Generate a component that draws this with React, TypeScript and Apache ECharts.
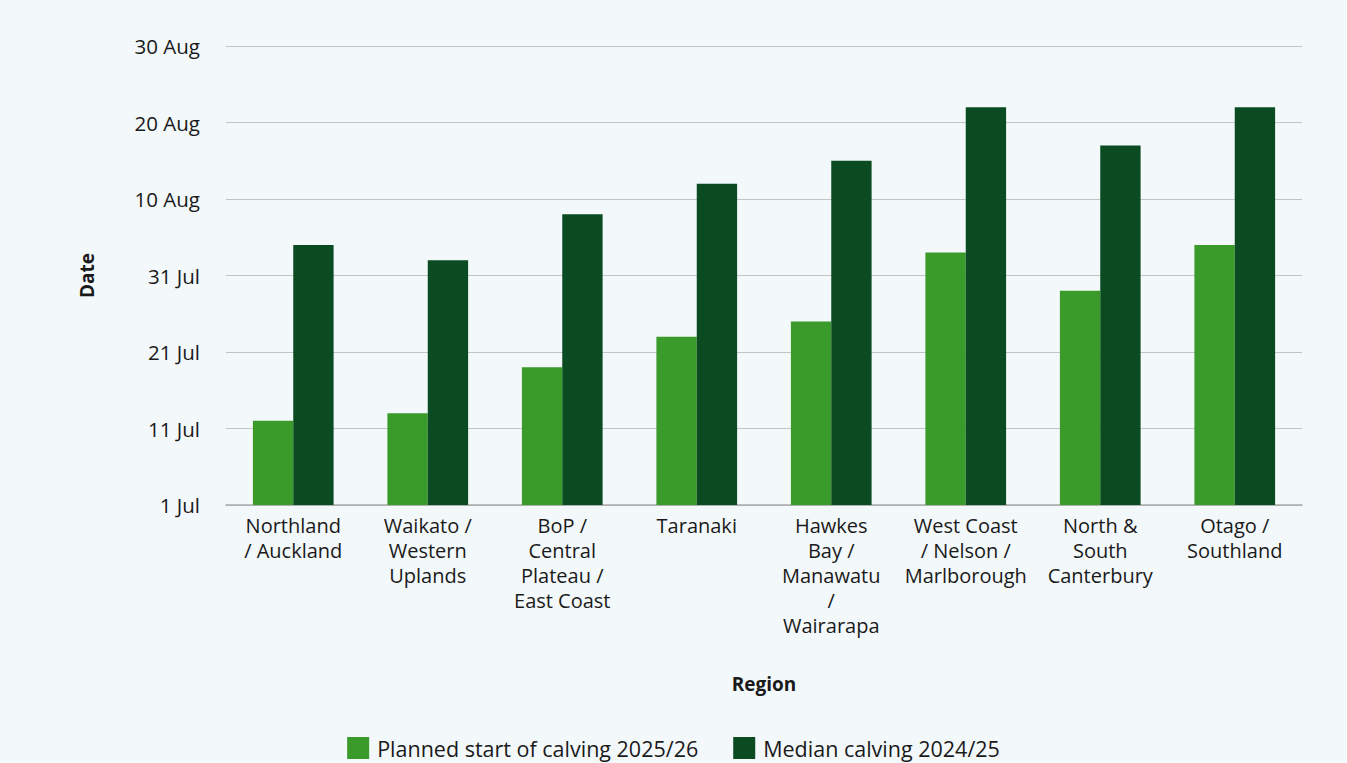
import React, { useEffect, useRef } from "react";
import * as echarts from "echarts";

const categories = [
  "Northland\n/ Auckland",
  "Waikato /\nWestern\nUplands",
  "BoP /\nCentral\nPlateau /\nEast Coast",
  "Taranaki",
  "Hawkes\nBay /\nManawatu\n/\nWairarapa",
  "West Coast\n/ Nelson /\nMarlborough",
  "North &\nSouth\nCanterbury",
  "Otago /\nSouthland",
];

// days after 1 July
const plannedStart = [11, 12, 18, 22, 24, 33, 28, 34];
const medianCalving = [34, 32, 38, 42, 45, 52, 47, 52];

const tickLabels = ["1 Jul", "11 Jul", "21 Jul", "31 Jul", "10 Aug", "20 Aug", "30 Aug"];

const FONT = "'Open Sans', Lato, sans-serif";

export default function App() {
  const ref = useRef<HTMLDivElement>(null);
  useEffect(() => {
    document.body.style.margin = "0";
    const chart = echarts.init(ref.current!, null, { renderer: "svg" });
    chart.setOption({
      animation: false,
      backgroundColor: "#f3f8fa",
      textStyle: { fontFamily: FONT },
      grid: { left: 226, right: 45, top: 46, bottom: 258 },
      legend: {
        bottom: 4,
        left: "center",
        padding: 0,
        icon: "rect",
        itemWidth: 22,
        itemHeight: 22,
        itemGap: 35,
        textStyle: { fontSize: 21.5, color: "#1a1a1a", fontFamily: FONT, padding: [0, 0, 0, 3] },
        data: ["Planned start of calving 2025/26", "Median calving 2024/25"],
      },
      xAxis: {
        type: "category",
        data: categories,
        name: "Region",
        nameLocation: "middle",
        nameGap: 169,
        nameTextStyle: { fontSize: 19, fontWeight: "bold", color: "#1a1a1a", fontFamily: FONT },
        axisLine: { lineStyle: { color: "#aaaaaa", width: 1.5 } },
        axisTick: { show: false },
        axisLabel: {
          interval: 0,
          fontSize: 20,
          lineHeight: 25,
          color: "#1a1a1a",
          margin: 8,
          fontFamily: FONT,
        },
      },
      yAxis: {
        type: "value",
        min: 0,
        max: 60,
        interval: 10,
        name: "Date",
        nameLocation: "middle",
        nameGap: 130,
        nameRotate: 90,
        nameTextStyle: { fontSize: 19, fontWeight: "bold", color: "#1a1a1a", fontFamily: FONT },
        axisLine: { show: false },
        axisTick: { show: false },
        splitLine: { lineStyle: { color: "#c4c4c4", width: 1.2 } },
        axisLabel: {
          fontSize: 20.5,
          color: "#1a1a1a",
          margin: 26,
          fontFamily: FONT,
          formatter: (v: number) => tickLabels[Math.round(v / 10)] ?? "",
        },
      },
      series: [
        {
          name: "Planned start of calving 2025/26",
          type: "bar",
          data: plannedStart,
          barGap: "0%",
          barCategoryGap: "40%",
          itemStyle: { color: "#3a9a2a" },
        },
        {
          name: "Median calving 2024/25",
          type: "bar",
          data: medianCalving,
          barGap: "0%",
          barCategoryGap: "40%",
          itemStyle: { color: "#0a4b22" },
        },
      ],
    });
    return () => chart.dispose();
  }, []);
  return <div ref={ref} style={{ width: 1347, height: 763 }} />;
}
